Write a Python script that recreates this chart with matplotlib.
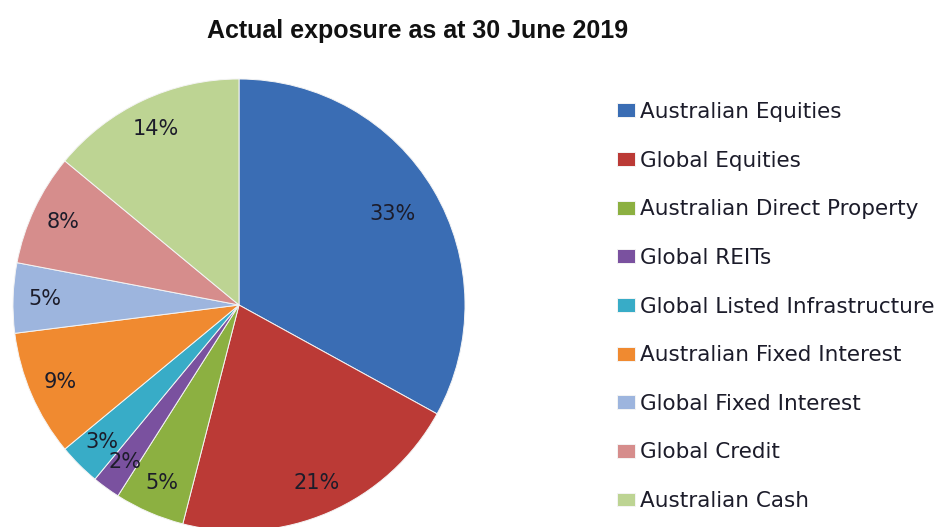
import matplotlib.pyplot as plt

# Data
categories = [
    "Australian Equities",
    "Global Equities",
    "Australian Direct Property",
    "Global REITs",
    "Global Listed Infrastructure",
    "Australian Fixed Interest",
    "Global Fixed Interest",
    "Global Credit",
    "Australian Cash",
]
shares = [33, 21, 5, 2, 3, 9, 5, 8, 14]
colors = [
    "#3a6db4",
    "#bb3a36",
    "#8cb041",
    "#7a519f",
    "#38acc7",
    "#f08a30",
    "#9db5de",
    "#d68d8c",
    "#bdd493",
]

W, H = 937, 527
fig = plt.figure(figsize=(W / 100, H / 100), dpi=100)

# Pie centre (239, 305) px, radius 226 px
cx, cy, r = 239, 305, 226
ax = fig.add_axes([(cx - r) / W, (H - cy - r) / H, 2 * r / W, 2 * r / H])
wedges, texts, autotexts = ax.pie(
    shares,
    colors=colors,
    startangle=90,
    counterclock=False,
    autopct="%d%%",
    pctdistance=0.86,
    radius=1,
    wedgeprops={"edgecolor": "#f4f4f4", "linewidth": 0.7},
    textprops={"fontsize": 15, "color": "#1c1c2a", "family": "DejaVu Sans"},
)
# the big slice label sits closer to the centre
x, y = autotexts[0].get_position()
autotexts[0].set_position((x * 0.79 / 0.86, y * 0.79 / 0.86))
ax.set_xlim(-1, 1)
ax.set_ylim(-1, 1)
ax.set_aspect("equal")
for w in wedges:
    w.set_clip_on(False)

fig.text(
    418 / W,
    1 - 31 / H,
    "Actual exposure as at 30 June 2019",
    ha="center",
    va="center",
    fontsize=18,
    fontweight="bold",
    family="Liberation Sans",
    color="#111111",
)

leg = fig.legend(
    wedges,
    categories,
    loc="upper left",
    bbox_to_anchor=(617 / W, 1 - 102 / H),
    frameon=False,
    prop={"family": "DejaVu Sans", "size": 15.5},
    handlelength=0.85,
    handleheight=0.62,
    handletextpad=0.22,
    labelspacing=1.33,
    borderpad=0,
    borderaxespad=0,
)
for t in leg.get_texts():
    t.set_color("#1c1c2a")

fig.savefig("out.png", dpi=100)
